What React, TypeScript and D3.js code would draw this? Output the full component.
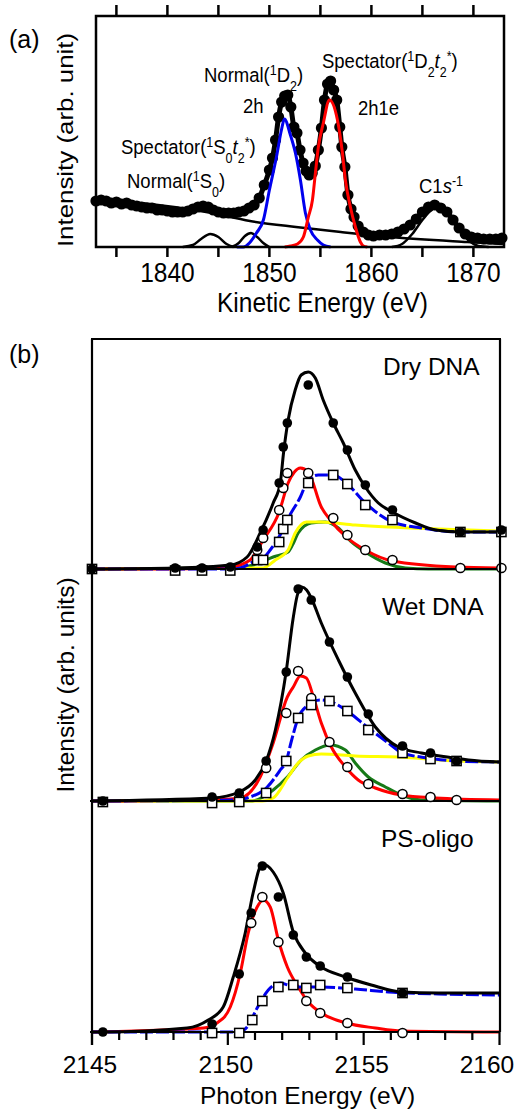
import React from "react";
import * as d3 from "d3";

type P = [number, number];
const FONT = "'Liberation Sans', Arial, Helvetica, sans-serif";

// ---------------- Panel (a): kinetic energy (eV) vs intensity (arb.) ----------------
const aTicks = [1835, 1840, 1845, 1850, 1855, 1860, 1865, 1870];
const aTickLabels = [1840, 1850, 1860, 1870];

const aMeasured: P[] = [
  [1833.0, 46], [1833.5, 47], [1834.0, 46], [1834.5, 44], [1835.0, 45], [1835.5, 43], [1836.0, 44],
  [1836.5, 42], [1837.0, 41], [1837.5, 40], [1838.0, 39], [1838.5, 39], [1839.0, 37], [1839.5, 37],
  [1840.0, 36], [1840.5, 35], [1841.0, 35], [1841.5, 35], [1842.0, 36], [1842.5, 38], [1843.0, 40],
  [1843.5, 41], [1844.0, 40], [1844.5, 37], [1845.0, 35], [1845.5, 34], [1846.0, 34], [1846.5, 34],
  [1847.0, 35], [1847.5, 36], [1848.0, 39], [1848.5, 42], [1849.0, 49], [1849.5, 62], [1850.0, 77],
  [1850.3, 89], [1850.6, 107], [1850.9, 130], [1851.2, 145], [1851.5, 151], [1851.8, 152],
  [1852.1, 140], [1852.4, 120], [1852.7, 114], [1853.0, 97], [1853.3, 84], [1853.6, 76], [1853.9, 72],
  [1854.2, 74], [1854.5, 81], [1854.8, 97], [1855.1, 119], [1855.4, 147], [1855.7, 163], [1856.0, 166],
  [1856.3, 157], [1856.6, 147], [1856.9, 120], [1857.1, 100], [1857.4, 80], [1857.7, 52], [1858.0, 38],
  [1858.3, 30], [1858.7, 21], [1859.2, 15], [1859.7, 12], [1860.2, 11], [1860.8, 12], [1861.4, 12],
  [1862.0, 13], [1862.6, 15], [1863.2, 18], [1863.8, 22], [1864.4, 28], [1865.0, 35], [1865.6, 40],
  [1866.2, 42], [1866.8, 39], [1867.4, 35], [1868.0, 27], [1868.6, 19], [1869.2, 13], [1869.8, 10],
  [1870.4, 9], [1871.0, 8], [1871.6, 8], [1872.2, 8], [1872.8, 9],
];
const aBackground: P[] = [
  [1833.0, 47], [1838.3, 43], [1843.8, 35], [1848.1, 26], [1852.6, 20], [1857.0, 15], [1861.9, 10],
  [1869.4, 5], [1872.9, 3],
];
const aNormal1S0: P[] = [
  [1841.5, 0], [1842.5, 2], [1843.3, 8], [1844.2, 13], [1845.0, 10], [1845.8, 3], [1846.5, 0],
];
const aSpect1S0: P[] = [
  [1846.3, 0], [1847.0, 4], [1847.6, 11], [1848.2, 14], [1848.8, 10], [1849.4, 4], [1850.0, 0],
];
const aNormal1D2: P[] = [
  [1846.8, 0], [1847.45, 0], [1848.04, 4], [1848.73, 14], [1849.41, 27], [1850.0, 57], [1850.69, 90],
  [1851.18, 117], [1851.47, 128], [1852.06, 112], [1852.55, 94], [1853.04, 67], [1853.53, 34],
  [1854.02, 17], [1854.71, 7], [1855.29, 2], [1856.0, 0],
];
const aSpect1D2: P[] = [
  [1851.5, 0], [1852.06, 1], [1852.75, 3], [1853.33, 10], [1853.82, 30], [1854.22, 47], [1854.51, 74],
  [1854.8, 100], [1855.29, 124], [1855.88, 147], [1856.67, 127], [1857.16, 94], [1857.45, 67],
  [1857.94, 40], [1858.43, 20], [1858.92, 5], [1859.22, 1], [1859.6, 0],
];
const aC1s: P[] = [
  [1862.0, 0], [1863.0, 3], [1864.0, 13], [1865.0, 27], [1866.0, 38], [1866.6, 40], [1867.5, 33],
  [1868.5, 19], [1869.5, 7], [1870.5, 1], [1871.5, 0],
];

// ---------------- Panel (b): photon energy (eV) vs intensity (arb.) ----------------
const bMajorTicks = [2145, 2150, 2155, 2160];
const bMinorTicks = [2146, 2147, 2148, 2149, 2151, 2152, 2153, 2154, 2156, 2157, 2158, 2159];

// Dry DNA
const dryTotal: P[] = [
  [2145, 0], [2148.06, 1], [2150.09, 4], [2150.71, 12], [2151.19, 36], [2151.67, 66], [2151.93, 86],
  [2152.05, 116], [2152.22, 149], [2152.48, 179], [2152.7, 194], [2152.96, 197], [2153.22, 191],
  [2153.51, 169], [2153.88, 146], [2154.25, 126], [2154.69, 99], [2155.06, 82], [2155.54, 66],
  [2156.06, 57], [2156.91, 46], [2157.64, 39], [2158.6, 37], [2160, 37],
];
const dryDots: P[] = [
  [2145, 0], [2148.06, 1], [2149.05, 1], [2150.09, 2], [2151.08, 22], [2151.3, 39], [2151.89, 86],
  [2152.04, 122], [2152.19, 146], [2152.96, 184], [2153.88, 146], [2154.4, 119], [2155.06, 84],
  [2156.06, 59], [2158.56, 37], [2160.07, 39],
];
const dryRed: P[] = [
  [2145, 0], [2148.06, 0], [2150.09, 2], [2150.82, 9], [2151.3, 29], [2151.89, 57], [2152.22, 86],
  [2152.45, 97], [2152.67, 101], [2152.96, 97], [2153.44, 62], [2153.77, 49], [2154.36, 32],
  [2155.06, 19], [2156.06, 8], [2158.38, 2], [2160, 1],
];
const dryCircles: P[] = [
  [2148.06, 0], [2149.05, 0], [2150.09, 0], [2151.08, 19], [2151.3, 31], [2151.89, 59], [2152.04, 81],
  [2152.19, 96], [2152.96, 96], [2153.88, 51], [2154.4, 34], [2155.06, 19], [2156.06, 9],
  [2158.56, 1], [2160.07, 1],
];
const dryBlue: P[] = [
  [2145, 0], [2150.09, 0], [2150.46, 1], [2151.08, 9], [2151.3, 11], [2151.56, 19], [2152.04, 40],
  [2152.19, 49], [2152.67, 72], [2152.96, 89], [2153.33, 94], [2153.88, 94], [2154.36, 86],
  [2155.06, 66], [2156.06, 47], [2157.13, 41], [2158.56, 37], [2160, 37],
];
const drySquares: P[] = [
  [2145, 0], [2148.06, -1.5], [2149.05, -1.5], [2150.09, -1.5], [2151.08, 9], [2151.3, 9],
  [2151.89, 27], [2152.04, 40], [2152.19, 49], [2152.96, 86], [2153.88, 94], [2154.4, 85],
  [2155.06, 64], [2156.06, 49], [2158.56, 37], [2160.07, 37],
];
const dryGreen: P[] = [
  [2145, 0], [2150.34, 1], [2150.93, 4], [2151.67, 12], [2152.22, 17], [2152.4, 25], [2152.59, 36],
  [2153.07, 46], [2153.59, 47], [2154.07, 41], [2154.55, 27], [2155.06, 17], [2155.8, 6],
  [2156.54, 1], [2157.38, 0], [2160, 0],
];
const dryYellow: P[] = [
  [2145, 0], [2151.3, 1], [2151.75, 9], [2152.22, 19], [2152.48, 36], [2152.89, 47], [2153.44, 47],
  [2154.69, 44], [2155.91, 42], [2157.75, 40], [2160, 38],
];

// Wet DNA
const wetTotal: P[] = [
  [2145, 0], [2149.42, 3], [2150.42, 9], [2151.01, 21], [2151.41, 40], [2151.75, 71], [2152.15, 130],
  [2152.4, 182], [2152.55, 205], [2152.72, 214], [2152.9, 211], [2153.07, 203], [2153.44, 178],
  [2154.07, 141], [2154.69, 108], [2155.43, 74], [2156.28, 54], [2157.13, 48], [2158.38, 43],
  [2158.86, 41], [2160, 39],
];
const wetDots: P[] = [
  [2145.4, 0], [2149.42, 4], [2150.42, 8], [2151.41, 40], [2152.15, 129], [2152.59, 212],
  [2153.07, 201], [2153.74, 159], [2154.4, 124], [2155.17, 87], [2156.43, 55], [2157.46, 48],
  [2158.42, 40],
];
const wetRed: P[] = [
  [2145, 0], [2149.42, 1], [2150.46, 3], [2151.19, 24], [2151.67, 58], [2152.19, 104], [2152.41, 114],
  [2152.67, 125], [2152.89, 123], [2153.15, 104], [2153.44, 78], [2153.81, 54], [2154.33, 34],
  [2154.8, 21], [2155.43, 13], [2156.39, 6], [2157.64, 3], [2160, 1],
];
const wetCircles: P[] = [
  [2149.42, 1], [2150.42, 3], [2151.41, 33], [2152.15, 88], [2152.59, 130], [2153.07, 103],
  [2153.74, 59], [2154.4, 34], [2155.17, 17], [2156.43, 7], [2157.46, 4], [2158.42, 1],
];
const wetBlue: P[] = [
  [2145, 0], [2150.42, 1], [2150.71, 3], [2151.45, 14], [2151.93, 31], [2152.15, 40], [2152.34, 60],
  [2152.59, 83], [2152.96, 96], [2153.4, 101], [2153.81, 99], [2154.44, 89], [2155.17, 73],
  [2155.91, 58], [2156.43, 48], [2157.38, 43], [2158.38, 40], [2160, 39],
];
const wetSquares: P[] = [
  [2145.4, -1], [2149.42, -2], [2150.42, -1], [2151.41, 8], [2152.15, 40], [2152.59, 83],
  [2153.07, 96], [2153.74, 100], [2154.4, 90], [2155.17, 71], [2156.43, 48], [2157.46, 42],
  [2158.42, 40],
];
const wetGreen: P[] = [
  [2145, 0], [2150.9, 0], [2151.3, 4], [2151.67, 11], [2152.19, 24], [2152.7, 41], [2153.22, 51],
  [2153.77, 56], [2154.33, 51], [2154.69, 38], [2155.17, 24], [2155.8, 14], [2156.39, 6],
  [2157.13, 1], [2160, 0],
];
const wetYellow: P[] = [
  [2145, 0], [2151.27, 0], [2151.67, 3], [2152.22, 24], [2152.59, 38], [2152.96, 45], [2153.44, 47],
  [2154.69, 45], [2156.28, 44], [2158.38, 40], [2160, 39],
];

// PS-oligo
const psTotal: P[] = [
  [2145, 0], [2145.4, 0], [2148.5, 4], [2149.28, 12], [2149.83, 25], [2150.2, 55], [2150.64, 99],
  [2150.93, 139], [2151.27, 168], [2151.67, 160], [2152.04, 139], [2152.41, 100], [2152.85, 79],
  [2153.44, 65], [2154.33, 55], [2155.28, 47], [2156.39, 40], [2157.75, 39], [2160, 39],
];
const psDots: P[] = [
  [2145.4, 0], [2149.42, 8], [2150.42, 58], [2150.86, 119], [2151.27, 166], [2151.86, 135],
  [2152.41, 97], [2152.89, 75], [2153.4, 66], [2154.4, 55], [2156.43, 39],
];
const psRed: P[] = [
  [2145, 0], [2149.1, 4], [2149.6, 9], [2150.09, 25], [2150.46, 59], [2150.75, 99], [2151.08, 125],
  [2151.3, 132], [2151.56, 125], [2151.86, 92], [2152.19, 65], [2152.59, 45], [2152.96, 30],
  [2153.44, 19], [2154.36, 9], [2155.43, 4], [2156.39, 1], [2160, 0],
];
const psCircles: P[] = [
  [2149.42, -1], [2150.86, 109], [2151.27, 135], [2151.86, 90], [2152.89, 31], [2153.4, 19],
  [2154.4, 9], [2156.43, -1],
];
const psBlue: P[] = [
  [2145, 0], [2150.42, 0], [2150.71, 5], [2151.08, 24], [2151.49, 42], [2151.93, 49], [2152.22, 47],
  [2152.7, 45], [2153.44, 45], [2154.69, 43], [2155.91, 40], [2157.75, 38], [2160, 37],
];
const psSquares: P[] = [
  [2149.42, -1], [2150.42, -1], [2150.9, 12], [2151.27, 31], [2151.86, 45], [2152.41, 47],
  [2152.89, 44], [2153.4, 47], [2154.4, 44], [2156.43, 39],
];

// ---------------- scales ----------------
const xA = d3.scaleLinear().domain([1833, 1873]).range([96, 504]);
const yA = d3.scaleLinear().domain([0, 231]).range([247, 16]);
const xB = d3.scaleLinear().domain([2145, 2160]).range([92, 499.5]);

const RED = "#ff0000";
const BLUE = "#0000ee";
const GREEN = "#177a17";
const YELLOW = "#ffff00";

type Part = { t: string; s?: "sub" | "sup"; i?: boolean };

function Rich({ x, y, parts, size = 18.5, small = 12.5 }: { x: number; y: number; parts: Part[]; size?: number; small?: number }) {
  let cur = 0;
  return (
    <g transform={`translate(${x},${y}) scale(1,1.14)`}>
      <text fontFamily={FONT} fontSize={size} fill="#000">
        {parts.map((p, k) => {
          const target = p.s === "sup" ? -6.5 : p.s === "sub" ? 7.5 : 0;
          const dy = target - cur;
          cur = target;
          return (
            <tspan key={k} dy={dy} fontSize={p.s ? small : size} fontStyle={p.i ? "italic" : undefined}>
              {p.t}
            </tspan>
          );
        })}
      </text>
    </g>
  );
}

function PanelA() {
  const line = d3
    .line<P>()
    .x((d) => xA(d[0]))
    .y((d) => yA(d[1]))
    .curve(d3.curveMonotoneX);
  return (
    <g>
      {/* thin black component lines */}
      {[aBackground, aNormal1S0, aSpect1S0, aC1s].map((s, i) => (
        <path key={i} d={line(s) || ""} fill="none" stroke="#000" strokeWidth={2.5} />
      ))}
      {/* measured data */}
      <path d={line(aMeasured) || ""} fill="none" stroke="#000" strokeWidth={5} />
      {aMeasured.map((d, i) => (
        <circle key={i} cx={xA(d[0])} cy={yA(d[1])} r={5.6} fill="#000" />
      ))}
      <path d={line(aNormal1D2) || ""} fill="none" stroke={BLUE} strokeWidth={3} />
      <path d={line(aSpect1D2) || ""} fill="none" stroke={RED} strokeWidth={3} />
      {/* frame */}
      <rect x={96} y={16} width={408} height={231} fill="none" stroke="#000" strokeWidth={2.5} />
      {aTicks.map((t) => (
        <g key={t}>
          <line x1={xA(t)} x2={xA(t)} y1={16} y2={5} stroke="#000" strokeWidth={2.5} />
          <line x1={xA(t)} x2={xA(t)} y1={247} y2={257} stroke="#000" strokeWidth={2.5} />
        </g>
      ))}
      {aTickLabels.map((t) => (
        <g key={t} transform={`translate(${xA(t)},282) scale(1,1.14)`}>
          <text textAnchor="middle" fontFamily={FONT} fontSize={24.5}>
            {t}
          </text>
        </g>
      ))}
      <g transform={`translate(322.5,312) scale(1,1.14)`}>
        <text textAnchor="middle" fontFamily={FONT} fontSize={24.5}>
          Kinetic Energy (eV)
        </text>
      </g>
      <g transform={`translate(73,140) scale(1,1.14) rotate(-90)`}>
        <text textAnchor="middle" fontFamily={FONT} fontSize={22.7}>
          Intensity (arb. unit)
        </text>
      </g>
      <text x={9} y={48} fontFamily={FONT} fontSize={25}>
        (a)
      </text>
      <Rich x={204} y={82} parts={[{ t: "Normal(" }, { t: "1", s: "sup" }, { t: "D" }, { t: "2", s: "sub" }, { t: ")" }]} />
      <Rich x={243} y={113} parts={[{ t: "2h" }]} />
      <Rich
        x={121}
        y={154}
        parts={[{ t: "Spectator(" }, { t: "1", s: "sup" }, { t: "S" }, { t: "0", s: "sub" }, { t: "t", i: true }, { t: "2", s: "sub" }, { t: "*", s: "sup" }, { t: ")" }]}
      />
      <Rich x={127} y={188} parts={[{ t: "Normal(" }, { t: "1", s: "sup" }, { t: "S" }, { t: "0", s: "sub" }, { t: ")" }]} />
      <Rich
        x={322}
        y={68}
        parts={[{ t: "Spectator(" }, { t: "1", s: "sup" }, { t: "D" }, { t: "2", s: "sub" }, { t: "t", i: true }, { t: "2", s: "sub" }, { t: "*", s: "sup" }, { t: ")" }]}
      />
      <Rich x={358} y={115} parts={[{ t: "2h1e" }]} />
      <Rich x={419} y={193} parts={[{ t: "C1" }, { t: "s", i: true }, { t: "-1", s: "sup" }]} />
    </g>
  );
}

type PanelProps = {
  baseline: number;
  total: P[];
  dots: P[];
  red: P[];
  circles: P[];
  blue: P[];
  squares: P[];
  green?: P[];
  yellow?: P[];
  label: string;
  labelX: number;
  labelY: number;
};

function PanelB(p: PanelProps) {
  const y = d3.scaleLinear().domain([0, 231]).range([p.baseline, p.baseline - 231]);
  const line = d3
    .line<P>()
    .x((d) => xB(d[0]))
    .y((d) => y(d[1]))
    .curve(d3.curveMonotoneX);
  return (
    <g>
      {p.green && <path d={line(p.green) || ""} fill="none" stroke={GREEN} strokeWidth={3} />}
      {p.yellow && <path d={line(p.yellow) || ""} fill="none" stroke={YELLOW} strokeWidth={3} />}
      <path d={line(p.red) || ""} fill="none" stroke={RED} strokeWidth={3} />
      <path d={line(p.blue) || ""} fill="none" stroke={BLUE} strokeWidth={3} strokeDasharray="13,3" />
      <path d={line(p.total) || ""} fill="none" stroke="#000" strokeWidth={3} />
      <line x1={90} x2={500} y1={p.baseline} y2={p.baseline} stroke="#000" strokeWidth={2.2} />
      {p.circles.map((d, i) => (
        <circle key={"c" + i} cx={xB(d[0])} cy={y(d[1])} r={4.6} fill="#fff" stroke="#000" strokeWidth={1.5} />
      ))}
      {p.squares.map((d, i) => (
        <rect key={"s" + i} x={xB(d[0]) - 4.6} y={y(d[1]) - 4.6} width={9.2} height={9.2} fill="#fff" stroke="#000" strokeWidth={1.5} />
      ))}
      {p.dots.map((d, i) => (
        <circle key={"d" + i} cx={xB(d[0])} cy={y(d[1])} r={4.8} fill="#000" />
      ))}
      <text x={p.labelX} y={p.labelY} fontFamily={FONT} fontSize={24.5}>
        {p.label}
      </text>
    </g>
  );
}

function PanelBFrame() {
  return (
    <g>
      <line x1={92} x2={92} y1={339} y2={1045} stroke="#000" strokeWidth={2.2} />
      <line x1={500} x2={500} y1={339} y2={1032} stroke="#000" strokeWidth={2.2} />
      <line x1={91} x2={501} y1={339} y2={339} stroke="#000" strokeWidth={2.2} />
      {bMajorTicks.map((t) => (
        <line key={t} x1={xB(t)} x2={xB(t)} y1={1032} y2={1045} stroke="#000" strokeWidth={2.2} />
      ))}
      {bMinorTicks.map((t) => (
        <line key={t} x1={xB(t)} x2={xB(t)} y1={1032} y2={1040} stroke="#000" strokeWidth={2.2} />
      ))}
      {bMajorTicks.map((t) => (
        <text key={"l" + t} x={Math.min(xB(t) - 2, 487)} y={1073} textAnchor="middle" fontFamily={FONT} fontSize={24.5}>
          {t}
        </text>
      ))}
      <text x={307.5} y={1104} textAnchor="middle" fontFamily={FONT} fontSize={24.5}>
        Photon Energy (eV)
      </text>
      <text transform="translate(74,685) rotate(-90)" textAnchor="middle" fontFamily={FONT} fontSize={24.5}>
        Intensity (arb. units)
      </text>
      <text x={9} y={363} fontFamily={FONT} fontSize={25}>
        (b)
      </text>
    </g>
  );
}

export default function App() {
  return (
    <svg
      width={516}
      height={1110}
      viewBox="0 0 516 1110"
      style={{ position: "absolute", left: 0, top: 0, display: "block", background: "#fff" }}
    >
      <rect x={0} y={0} width={516} height={1110} fill="#fff" />
      <PanelA />
      <PanelB baseline={569} total={dryTotal} dots={dryDots} red={dryRed} circles={dryCircles} blue={dryBlue} squares={drySquares} green={dryGreen} yellow={dryYellow} label="Dry DNA" labelX={383} labelY={375} />
      <PanelB baseline={801} total={wetTotal} dots={wetDots} red={wetRed} circles={wetCircles} blue={wetBlue} squares={wetSquares} green={wetGreen} yellow={wetYellow} label="Wet DNA" labelX={382} labelY={615} />
      <PanelB baseline={1032} total={psTotal} dots={psDots} red={psRed} circles={psCircles} blue={psBlue} squares={psSquares} label="PS-oligo" labelX={381} labelY={847} />
      <PanelBFrame />
    </svg>
  );
}
